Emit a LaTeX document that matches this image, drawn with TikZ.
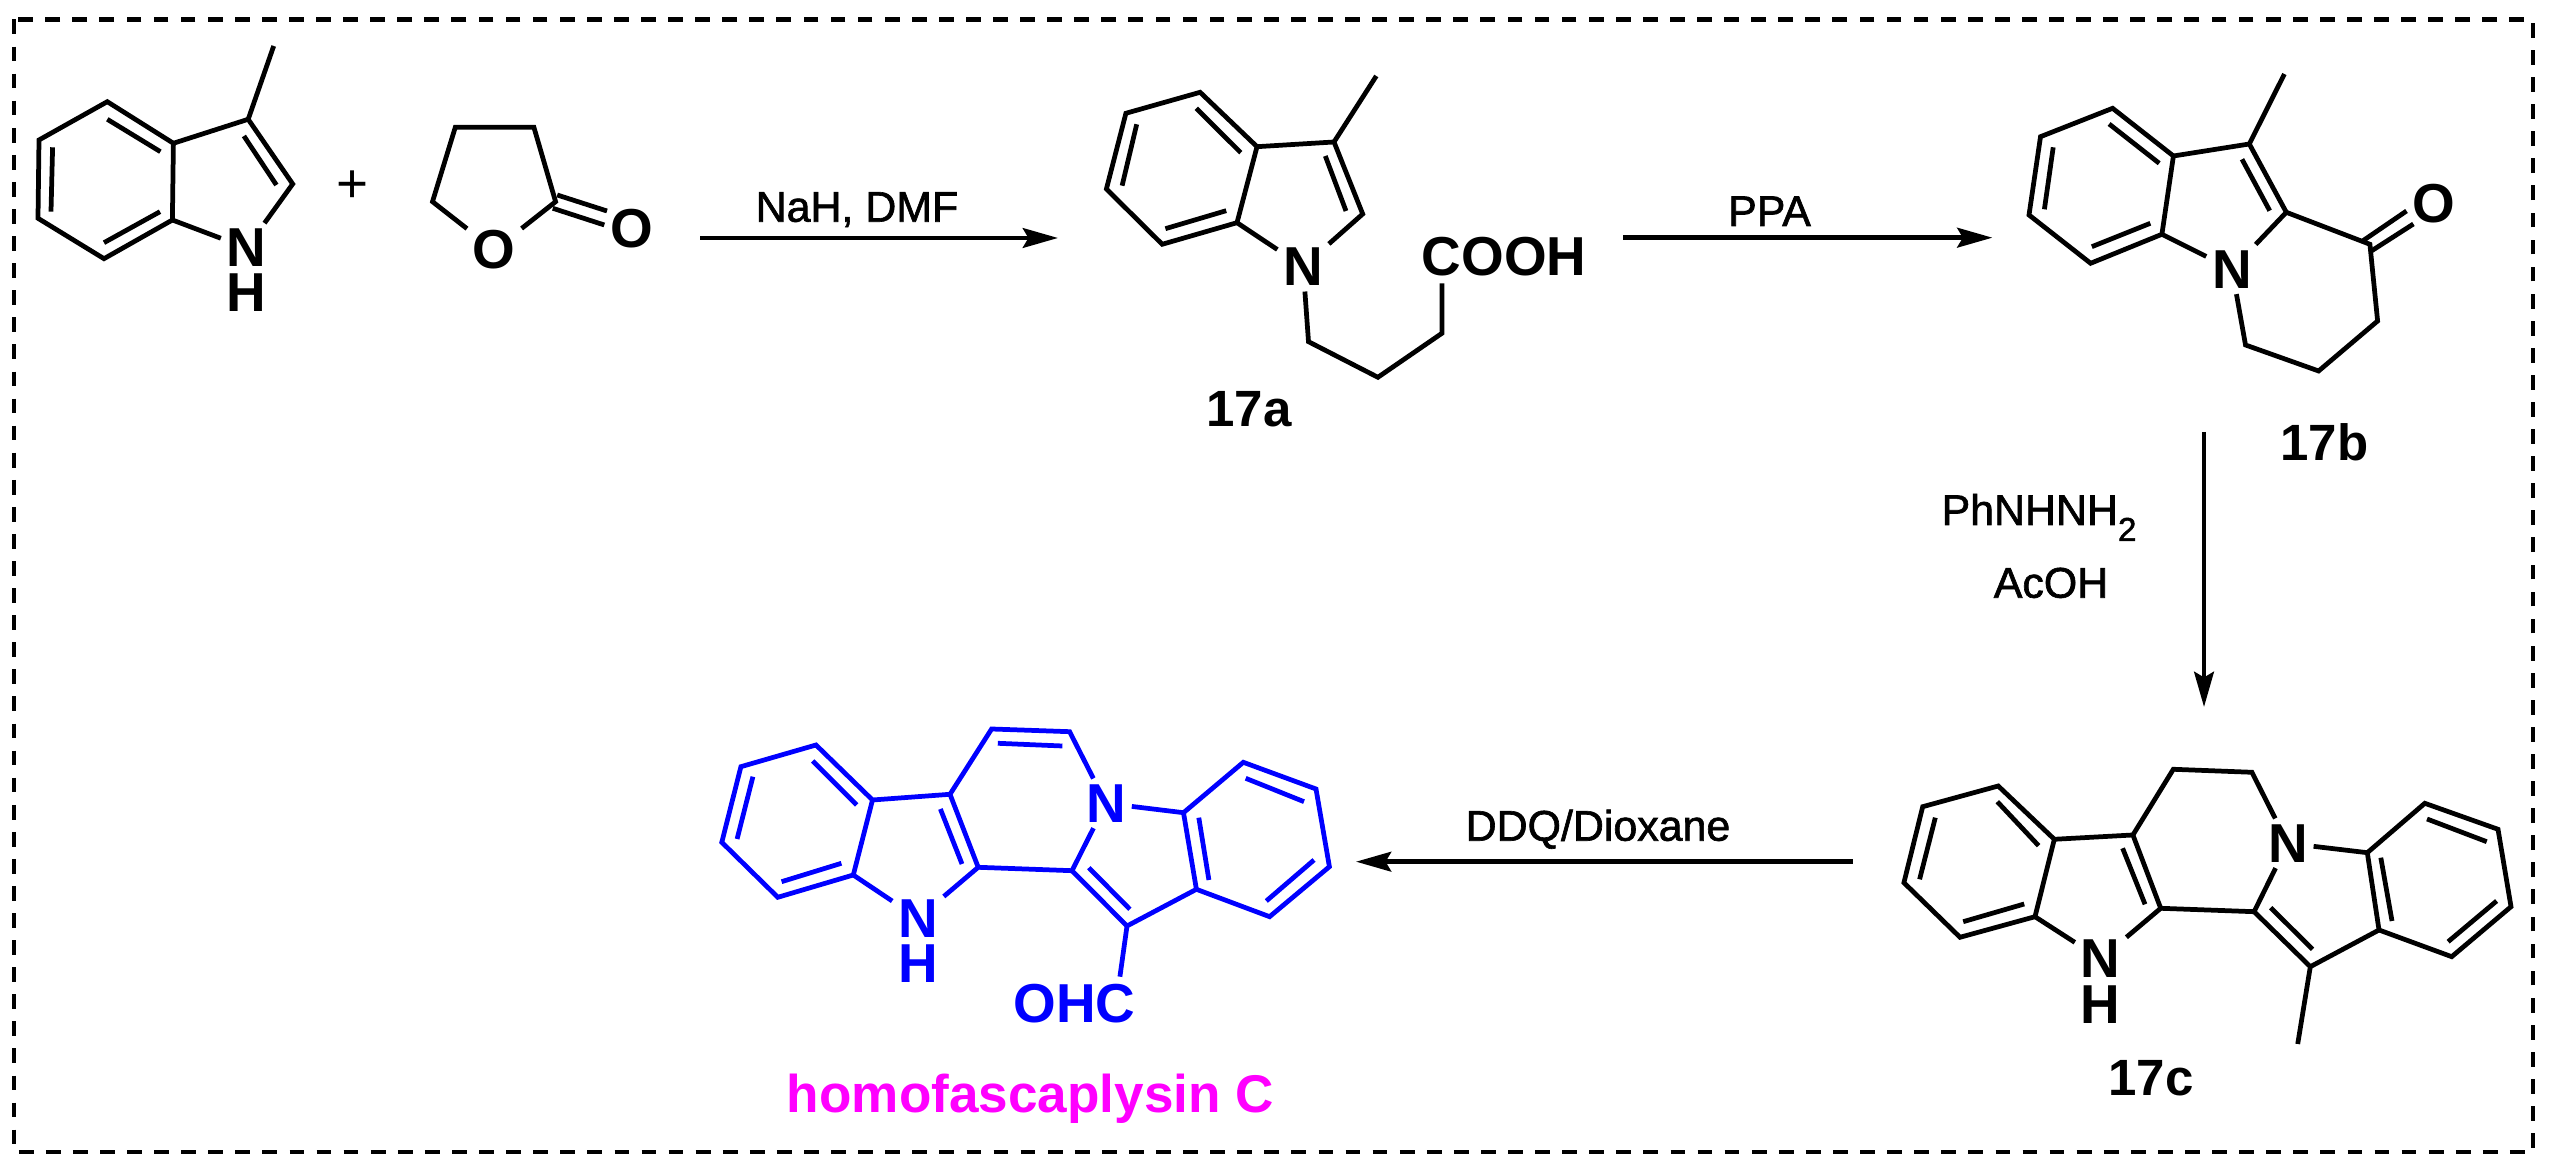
\documentclass[tikz,border=0pt]{standalone}
\usepackage{fontspec}
\setmainfont{Liberation Sans}
\newfontfamily\reagentfont{Liberation Sans}[FakeBold=1.5]
\usetikzlibrary{arrows.meta}
\definecolor{chemblue}{RGB}{0,0,255}
\definecolor{chemmagenta}{RGB}{255,0,255}
\tikzset{
    bond/.style={line width=1.35pt},
    atom/.style={font=\fontsize{15.6}{18}\selectfont\bfseries, inner sep=1.5pt},
    hatom/.style={atom, inner sep=0pt},
    reagent/.style={font=\fontsize{12.2}{14}\selectfont\reagentfont, anchor=base, inner sep=0pt},
    cpdlabel/.style={font=\fontsize{14.5}{17}\selectfont\bfseries, anchor=base, inner sep=0pt},
    rxnarrow/.style={line width=1.3pt, -{Stealth[length=10pt, width=5.6pt, inset=1.6pt]}},
    framedash/.style={line width=1.3pt, dash pattern=on 4.2pt off 3.5pt}
}
\begin{document}
\begin{tikzpicture}[x=0.01cm, y=-0.01cm]
    \useasboundingbox (0,0) rectangle (2554,1174);

    % --- Frame ---
    \coordinate (frameNW) at (14,19.5);
    \coordinate (frameSE) at (2533,1152);
    \draw[framedash] (frameNW) rectangle (frameSE);

    % --- 3-methylindole ---
    \coordinate (A1) at (107.3,101.7);
    \coordinate (A2) at (39,140);
    \coordinate (A3) at (38,218.3);
    \coordinate (A4) at (104,258.7);
    \coordinate (A5) at (172.4,220);
    \coordinate (A6) at (173.4,143.3);
    \coordinate (A7) at (248.2,119.3);
    \coordinate (A8) at (292.7,184);
    \coordinate (Ame) at (273.7,46);
    \node[atom] (AN) at (246.6,248) {N};
    \node[hatom] (AH) at (246.6,293) {H};
    \draw[bond] (A1) -- (A2) -- (A3) -- (A4) -- (A5) -- (A6) -- cycle;
    \draw[bond] (A6) -- (A7) -- (A8) -- (AN) -- (A5);
    \draw[bond] (A7) -- (Ame);
    % inner lines of the double bonds
    \draw[bond] (107.3,119.3) -- (160.4,151.7);
    \draw[bond] (52.6,147.3) -- (51,211.7);
    \draw[bond] (104,242.7) -- (160,211.7);
    \draw[bond] (243.9,136) -- (276.4,185);

    \node[font=\fontsize{15.6}{18}\selectfont, inner sep=0pt] (plus) at (352.8,187) {+};

    % --- Lactone ---
    \coordinate (B1) at (455.3,127.3);
    \coordinate (B2) at (533.9,127.3);
    \coordinate (B3) at (555.6,201.7);
    \coordinate (B4) at (432.5,201.7);
    \node[atom] (BO) at (494.3,250) {O};
    \node[atom] (BOx) at (631.4,228.3) {O};
    \draw[bond] (BO) -- (B4) -- (B1) -- (B2) -- (B3) -- (BO);
    \draw[bond] (557.2,195) -- (607,211);
    \draw[bond] (552.8,208.3) -- (604.3,225);

    % --- Arrow NaH ---
    \coordinate (arrAs) at (700,238);
    \coordinate (arrAe) at (1058,238);
    \draw[rxnarrow] (arrAs) -- (arrAe);
    \node[reagent] (nah) at (857,221.7) {NaH, DMF};

    % --- 17a ---
    \coordinate (C1) at (1200.1,92.3);
    \coordinate (C2) at (1125.9,113.3);
    \coordinate (C3) at (1106.4,189);
    \coordinate (C4) at (1162.2,244.3);
    \coordinate (C5) at (1237,222.7);
    \coordinate (C6) at (1257,146.7);
    \coordinate (C7) at (1334,142);
    \coordinate (C8) at (1362.7,214);
    \coordinate (Cme) at (1376.3,76);
    \coordinate (C9) at (1308.5,341.7);
    \coordinate (C10) at (1377.9,377.3);
    \coordinate (C11) at (1441.9,333.3);
    \coordinate (C12) at (1441.9,283.3);
    \node[atom] (CN) at (1303.1,266.7) {N};
    \node[atom] (cooh) at (1504,256.7) {COOH};
    \draw[bond] (C1) -- (C2) -- (C3) -- (C4) -- (C5) -- (C6) -- cycle;
    \draw[bond] (C6) -- (C7) -- (C8) -- (CN) -- (C5);
    \draw[bond] (C7) -- (Cme);
    \draw[bond] (CN) -- (C9) -- (C10) -- (C11) -- (C12);
    \draw[bond] (1196.3,108.3) -- (1240.8,152.7);
    \draw[bond] (1136.7,124.3) -- (1122.1,185.7);
    \draw[bond] (1165.4,228.7) -- (1226.2,210.7);
    \draw[bond] (1325.3,156) -- (1346,211);
    \node[cpdlabel] (lbla) at (1249,426.7) {17a};

    % --- Arrow PPA ---
    \coordinate (arrBs) at (1623.4,237.7);
    \coordinate (arrBe) at (1992.4,237.7);
    \draw[rxnarrow] (arrBs) -- (arrBe);
    \node[reagent] (ppa) at (1769.5,226) {PPA};

    % --- 17b ---
    \coordinate (D1) at (2112.6,108.3);
    \coordinate (D2) at (2040.5,136.7);
    \coordinate (D3) at (2029,215);
    \coordinate (D4) at (2090.6,263.3);
    \coordinate (D5) at (2161.9,234.3);
    \coordinate (D6) at (2173.4,156);
    \coordinate (D7) at (2249.3,144);
    \coordinate (D8) at (2286.3,212.3);
    \coordinate (Dme) at (2284.4,74);
    \coordinate (D9) at (2369.9,244.3);
    \coordinate (D10) at (2377.6,321);
    \coordinate (D11) at (2318.6,371);
    \coordinate (D12) at (2245.5,345);
    \node[atom] (DN) at (2232,269.3) {N};
    \node[atom] (DO) at (2433.4,203.3) {O};
    \draw[bond] (D1) -- (D2) -- (D3) -- (D4) -- (D5) -- (D6) -- cycle;
    \draw[bond] (D6) -- (D7) -- (D8) -- (DN) -- (D5);
    \draw[bond] (D7) -- (Dme);
    \draw[bond] (D8) -- (D9) -- (D10) -- (D11) -- (D12) -- (DN);
    \draw[bond] (2363,240.7) -- (2406.5,211);
    \draw[bond] (2371.8,250.7) -- (2413.4,224);
    \draw[bond] (2109.1,124) -- (2159.2,163.3);
    \draw[bond] (2053.2,147.3) -- (2044.4,209.3);
    \draw[bond] (2091.8,246.7) -- (2150.3,223.3);
    \draw[bond] (2242,159.3) -- (2269.7,210.7);
    \node[cpdlabel] (lblb) at (2324.5,460.7) {17b};

    % --- Arrow PhNHNH2 ---
    \coordinate (arrCs) at (2204,432);
    \coordinate (arrCe) at (2204,707);
    \draw[rxnarrow] (arrCs) -- (arrCe);
    \node[reagent] (phn) at (2039,525) {PhNHNH\raisebox{-0.7ex}{\fontsize{9.4}{11}\selectfont 2}};
    \node[reagent] (acoh) at (2051,597.7) {AcOH};

    % --- 17c ---
    \coordinate (E1) at (1998.2,786);
    \coordinate (E2) at (1922.7,806.7);
    \coordinate (E3) at (1903.9,882.7);
    \coordinate (E4) at (1960,937.3);
    \coordinate (E5) at (2035,916.7);
    \coordinate (E6) at (2054.3,839.3);
    \coordinate (E7) at (2132.9,835);
    \coordinate (E8) at (2160.7,908.3);
    \coordinate (E9) at (2173.3,769.3);
    \coordinate (E10) at (2251.9,772.3);
    \coordinate (E11) at (2254.1,911.7);
    \coordinate (E12) at (2310.3,966.7);
    \coordinate (E13) at (2379,930);
    \coordinate (E14) at (2367.3,852.7);
    \coordinate (E15) at (2424.8,803.3);
    \coordinate (E16) at (2498,829.3);
    \coordinate (E17) at (2511,906.7);
    \coordinate (E18) at (2451.7,956.7);
    \coordinate (Eme) at (2297.7,1044);
    \node[atom] (EN) at (2100.6,959) {N};
    \node[hatom] (EH) at (2100.6,1005) {H};
    \node[atom] (EM) at (2287.8,843.3) {N};
    \draw[bond] (E1) -- (E2) -- (E3) -- (E4) -- (E5) -- (E6) -- cycle;
    \draw[bond] (E6) -- (E7) -- (E8) -- (EN) -- (E5);
    \draw[bond] (E7) -- (E9) -- (E10) -- (EM) -- (E11) -- (E8);
    \draw[bond] (E11) -- (E12) -- (E13) -- (E14) -- (EM);
    \draw[bond] (E14) -- (E15) -- (E16) -- (E17) -- (E18) -- (E13);
    \draw[bond] (E12) -- (Eme);
    \draw[bond] (1997.3,801.7) -- (2038.6,845.7);
    \draw[bond] (1935.3,817.7) -- (1919.6,879.3);
    \draw[bond] (1963.2,921.7) -- (2024.2,904);
    \draw[bond] (2122.6,848.3) -- (2145,904.3);
    \draw[bond] (2270.7,907.7) -- (2312.5,949.3);
    \draw[bond] (2380.8,857.7) -- (2392,921);
    \draw[bond] (2427,819) -- (2486.7,841.7);
    \draw[bond] (2496.6,901) -- (2448.1,941.7);
    \node[cpdlabel] (lblc) at (2151,1095.7) {17c};

    % --- Arrow DDQ ---
    \coordinate (arrDs) at (1852.5,861.7);
    \coordinate (arrDe) at (1356,861.7);
    \draw[rxnarrow] (arrDs) -- (arrDe);
    \node[reagent] (ddq) at (1598,840.7) {DDQ/Dioxane};

    % --- homofascaplysin C ---
    \begin{scope}[color=chemblue]
        \coordinate (F1) at (816,745);
        \coordinate (F2) at (740.9,766.7);
        \coordinate (F3) at (721.8,842.3);
        \coordinate (F4) at (777.8,897.3);
        \coordinate (F5) at (853.3,875);
        \coordinate (F6) at (872.5,800);
        \coordinate (F7) at (950,794.3);
        \coordinate (F8) at (978.2,867.3);
        \coordinate (F9) at (991.6,729);
        \coordinate (F10) at (1069.6,731.7);
        \coordinate (F11) at (1072,870.7);
        \coordinate (F12) at (1127,926);
        \coordinate (F13) at (1196.4,889.3);
        \coordinate (F14) at (1183.5,812.7);
        \coordinate (F15) at (1243.3,762.3);
        \coordinate (F16) at (1316,789);
        \coordinate (F17) at (1329.4,866.7);
        \coordinate (F18) at (1269.6,916.7);
        \node[atom] (FN) at (918,918.3) {N};
        \node[hatom] (FH) at (918,963.3) {H};
        \node[atom] (FM) at (1106,803.3) {N};
        \node[atom] (ohc) at (1074.4,1004) {OHC};
        \draw[bond] (F1) -- (F2) -- (F3) -- (F4) -- (F5) -- (F6) -- cycle;
        \draw[bond] (F6) -- (F7) -- (F8) -- (FN) -- (F5);
        \draw[bond] (F7) -- (F9) -- (F10) -- (FM) -- (F11) -- (F8);
        \draw[bond] (F11) -- (F12) -- (F13) -- (F14) -- (FM);
        \draw[bond] (F14) -- (F15) -- (F16) -- (F17) -- (F18) -- (F13);
        \draw[bond] (F12) -- (1119.9,976.7);
        \draw[bond] (812.7,761) -- (856.7,805);
        \draw[bond] (752.9,776.7) -- (737.1,839);
        \draw[bond] (781.6,881.7) -- (841.4,863.3);
        \draw[bond] (940.4,809) -- (962,864);
        \draw[bond] (997.8,743.3) -- (1062.4,746);
        \draw[bond] (1088.8,867.7) -- (1129.9,909.3);
        \draw[bond] (1198.8,817.7) -- (1208.9,880);
        \draw[bond] (1245.7,778.3) -- (1304,801.7);
        \draw[bond] (1314,860) -- (1266.3,901);
    \end{scope}
    \node[font=\fontsize{15.1}{18}\selectfont\bfseries, text=chemmagenta, anchor=base, inner sep=0pt] (lblf) at (1030.4,1112.3) {homofascaplysin C};

\end{tikzpicture}
\end{document}
